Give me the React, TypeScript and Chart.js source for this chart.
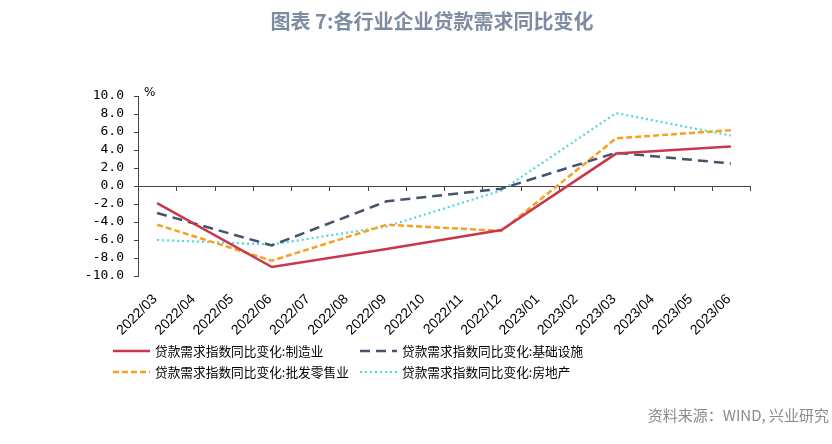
import React, { useEffect, useRef } from "react";
import { Chart, registerables } from "chart.js";

Chart.register(...registerables);

const categories = [
  "2022/03", "2022/04", "2022/05", "2022/06", "2022/07", "2022/08", "2022/09", "2022/10",
  "2022/11", "2022/12", "2023/01", "2023/02", "2023/03", "2023/04", "2023/05", "2023/06",
];
const manufacturing = [-1.9, null, null, -9.0, null, null, -7.0, null, null, -4.9, null, null, 3.6, null, null, 4.4];
const infrastructure = [-3.0, null, null, -6.6, null, null, -1.7, null, null, -0.3, null, null, 3.7, null, null, 2.5];
const wholesaleRetail = [-4.3, null, null, -8.3, null, null, -4.3, null, null, -5.0, null, null, 5.3, null, null, 6.2];
const realEstate = [-6.0, null, null, -6.5, null, null, -4.5, null, null, -0.5, null, null, 8.1, null, null, 5.6];
const seriesLabels = [
  "贷款需求指数同比变化:制造业",
  "贷款需求指数同比变化:基础设施",
  "贷款需求指数同比变化:批发零售业",
  "贷款需求指数同比变化:房地产",
];
const titleText = "图表 7:各行业企业贷款需求同比变化";
const sourceText = "资料来源：WIND, 兴业研究";
const unitText = "%";

const cjk = '"Noto Sans CJK SC", "Noto Sans", sans-serif';

const decorPlugin = {
  id: "decor",
  beforeDatasetsDraw(chart: any) {
    const { ctx, chartArea } = chart;
    const x = chart.scales.x;
    const y = chart.scales.y;
    const y0 = y.getPixelForValue(0);
    ctx.save();
    ctx.strokeStyle = "#444";
    ctx.lineWidth = 1;
    ctx.beginPath();
    ctx.moveTo(chartArea.left, Math.round(y0) + 0.5);
    ctx.lineTo(chartArea.right, Math.round(y0) + 0.5);
    const n = categories.length;
    for (let i = 0; i < n; i++) {
      const bx =
        i < n - 1
          ? (x.getPixelForValue(i) + x.getPixelForValue(i + 1)) / 2
          : chartArea.right;
      const px = Math.round(bx) + 0.5;
      ctx.moveTo(px, Math.round(y0));
      ctx.lineTo(px, Math.round(y0) + 5);
    }
    ctx.stroke();
    ctx.restore();
  },
  afterDraw(chart: any) {
    const { ctx, chartArea } = chart;
    ctx.save();
    // title
    ctx.fillStyle = "#7d8ca3";
    ctx.font = `bold 20px ${cjk}`;
    ctx.textAlign = "center";
    ctx.textBaseline = "middle";
    ctx.fillText(titleText, 432, 21);
    // unit
    ctx.fillStyle = "#000";
    ctx.font = `12px "DejaVu Sans", sans-serif`;
    ctx.textAlign = "left";
    ctx.fillText(unitText, chartArea.left + 6, 93);
    // source
    ctx.fillStyle = "#8a8a8a";
    ctx.font = `15px ${cjk}`;
    ctx.textAlign = "right";
    ctx.fillText(sourceText, 829, 415);
    // legend
    const pos = [
      [113, 351],
      [360, 351],
      [113, 372],
      [360, 372],
    ];
    chart.data.datasets.forEach((ds: any, i: number) => {
      const [lx, ly] = pos[i];
      ctx.save();
      ctx.strokeStyle = ds.borderColor;
      ctx.lineWidth = ds.borderWidth;
      ctx.setLineDash(ds.borderDash || []);
      ctx.beginPath();
      ctx.moveTo(lx, ly);
      ctx.lineTo(lx + 37, ly);
      ctx.stroke();
      ctx.restore();
      ctx.fillStyle = "#000";
      ctx.font = `12.7px ${cjk}`;
      ctx.textAlign = "left";
      ctx.textBaseline = "middle";
      ctx.fillText(ds.label, lx + 42, ly);
    });
    ctx.restore();
  },
};

export default function App() {
  const ref = useRef<HTMLCanvasElement>(null);
  useEffect(() => {
    if (!ref.current) return;
    const chart = new Chart(ref.current, {
      type: "line",
      data: {
        labels: categories,
        datasets: [
          {
            label: seriesLabels[0],
            data: manufacturing,
            borderColor: "#c8374b",
            borderWidth: 2.5,
            borderDash: [],
          },
          {
            label: seriesLabels[1],
            data: infrastructure,
            borderColor: "#44546a",
            borderWidth: 2.5,
            borderDash: [10, 6],
          },
          {
            label: seriesLabels[2],
            data: wholesaleRetail,
            borderColor: "#f8a020",
            borderWidth: 2.5,
            borderDash: [6, 3],
          },
          {
            label: seriesLabels[3],
            data: realEstate,
            borderColor: "#4dd9d6",
            borderWidth: 2.2,
            borderDash: [2, 3],
          },
        ] as any,
      },
      options: {
        animation: false,
        responsive: false,
        spanGaps: true,
        elements: { point: { radius: 0, hoverRadius: 0 }, line: { tension: 0 } },
        layout: { padding: { top: 96, right: 82, left: 0, bottom: 0 } },
        plugins: {
          legend: { display: false },
          title: { display: false },
          tooltip: { enabled: false },
        },
        scales: {
          x: {
            offset: true,
            grid: { display: false },
            border: { display: false },
            ticks: {
              autoSkip: false,
              minRotation: 45,
              maxRotation: 45,
              color: "#000",
              padding: 7,
              labelOffset: -2,
              font: { family: '"Liberation Sans", Arial, sans-serif', size: 14 },
            },
            afterFit(scale: any) {
              scale.height = 168;
            },
          },
          y: {
            min: -10,
            max: 10,
            ticks: {
              stepSize: 2,
              autoSkip: false,
              color: "#000",
              padding: 10,
              font: { family: '"DejaVu Sans Mono", monospace', size: 13 },
              callback: (v: any) => Number(v).toFixed(1),
            },
            grid: {
              display: true,
              drawOnChartArea: false,
              drawTicks: true,
              tickLength: 4,
              color: "#444",
            },
            border: { display: true, color: "#444" },
            afterFit(scale: any) {
              scale.width = 138;
            },
          },
        },
      },
      plugins: [decorPlugin],
    });
    return () => chart.destroy();
  }, []);
  return (
    <div style={{ position: "fixed", left: 0, top: 0, width: 832, height: 444, background: "#fff" }}>
      <canvas ref={ref} width={832} height={444} style={{ width: 832, height: 444, display: "block" }} />
    </div>
  );
}
